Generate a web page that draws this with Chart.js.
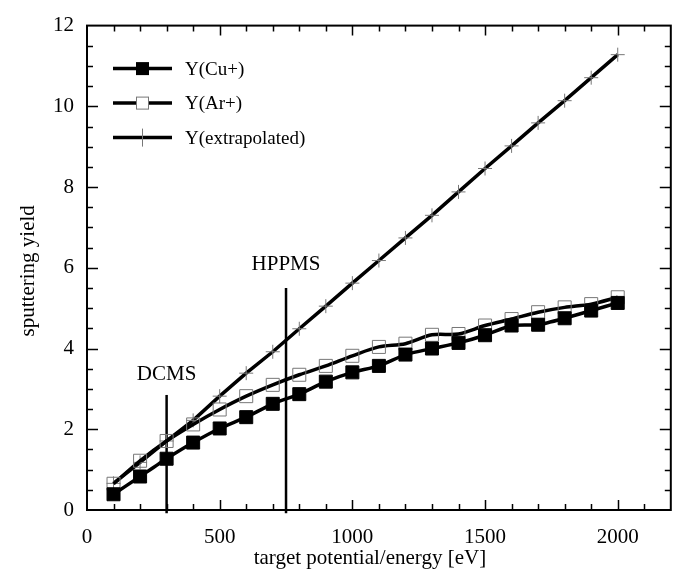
<!DOCTYPE html>
<html>
<head>
<meta charset="utf-8">
<script src="https://cdn.jsdelivr.net/npm/chart.js@4/dist/chart.umd.min.js"></script>
<style>
  body { margin: 0; background: #fff; }
  #wrap { width: 681px; height: 570px; }
</style>
</head>
<body>
<div id="wrap"><canvas id="yieldChart" width="681" height="570"></canvas></div>
<script>
// target potential / energy [eV]
const energies = [100, 200, 300, 400, 500, 600, 700, 800, 900, 1000,
                  1100, 1200, 1300, 1400, 1500, 1600, 1700, 1800, 1900, 2000];
const yieldCu = [0.39, 0.83, 1.27, 1.67, 2.02, 2.30, 2.63, 2.87, 3.18, 3.41,
                 3.57, 3.85, 4.00, 4.14, 4.33, 4.57, 4.59, 4.75, 4.94, 5.13];
const yieldAr = [0.65, 1.22, 1.71, 2.12, 2.49, 2.82, 3.10, 3.35, 3.57, 3.82,
                 4.04, 4.12, 4.34, 4.36, 4.57, 4.73, 4.90, 5.02, 5.10, 5.27];
const yieldExtrap = [0.66, 1.18, 1.71, 2.22, 2.82, 3.39, 3.92, 4.49, 5.05, 5.62,
                     6.18, 6.74, 7.30, 7.88, 8.46, 9.02, 9.59, 10.14, 10.71, 11.28];
const xTicks = [0, 500, 1000, 1500, 2000];
const yTicks = [0, 2, 4, 6, 8, 10, 12];
const regimeNames = ['DCMS', 'HPPMS'];
const regimeEnergies = [300, 750];
const regimeTops = [2.85, 5.5];
const regimeLabelY = [3.36, 6.07];

const serif = "'Liberation Serif', 'DejaVu Serif', serif";
const toPoints = ys => energies.map((x, i) => ({ x: x, y: ys[i] }));

const datasets = [
    {
        label: 'Y(Cu+)',
        data: toPoints(yieldCu),
        borderColor: '#000',
        borderWidth: 3.5,
        tension: 0.2,
        pointStyle: 'rect',
        pointRadius: 9.2,
        pointBackgroundColor: '#000',
        pointBorderColor: '#000',
        pointBorderWidth: 1
    },
    {
        label: 'Y(Ar+)',
        data: toPoints(yieldAr),
        borderColor: '#000',
        borderWidth: 3.5,
        tension: 0.3,
        pointStyle: 'rect',
        pointRadius: 9.2,
        pointBackgroundColor: 'rgba(0,0,0,0)',
        pointBorderColor: '#777',
        pointBorderWidth: 1
    },
    {
        label: 'Y(extrapolated)',
        data: toPoints(yieldExtrap),
        borderColor: '#000',
        borderWidth: 3.5,
        tension: 0,
        pointStyle: 'cross',
        pointRadius: 7,
        pointBorderColor: '#777',
        pointBorderWidth: 1
    }
];

// regime markers drawn as vertical line datasets
regimeEnergies.forEach((e, i) => {
    datasets.push({
        label: '',
        data: [{ x: e, y: -0.08 }, { x: e, y: regimeTops[i] }],
        borderColor: '#000',
        borderWidth: 2.5,
        pointRadius: 0,
        clip: false
    });
});

// box, inward ticks, legend, annotations and axis titles
const decorations = {
    id: 'decorations',
    afterDraw(chart) {
        const ctx = chart.ctx;
        const area = chart.chartArea;
        const xs = chart.scales.x;
        const ys = chart.scales.y;
        ctx.save();
        ctx.strokeStyle = '#000';
        ctx.lineWidth = 2;
        ctx.strokeRect(area.left, area.top, area.right - area.left, area.bottom - area.top);

        ctx.lineWidth = 1.5;
        ctx.beginPath();
        for (let v = 100; v < 2200; v += 100) {
            const px = Math.round(xs.getPixelForValue(v)) + 0.5;
            const len = v % 500 === 0 ? 10 : 6;
            ctx.moveTo(px, area.bottom); ctx.lineTo(px, area.bottom - len);
            ctx.moveTo(px, area.top); ctx.lineTo(px, area.top + len);
        }
        for (let v = 0.5; v < 12; v += 0.5) {
            const py = Math.round(ys.getPixelForValue(v)) + 0.5;
            const len = v % 2 === 0 ? 11 : 6;
            ctx.moveTo(area.left, py); ctx.lineTo(area.left + len, py);
            ctx.moveTo(area.right, py); ctx.lineTo(area.right - len, py);
        }
        ctx.stroke();

        ctx.fillStyle = '#000';
        ctx.font = '21px ' + serif;
        ctx.textAlign = 'center';
        ctx.textBaseline = 'middle';
        regimeNames.forEach((name, i) => {
            ctx.fillText(name, xs.getPixelForValue(regimeEnergies[i]), ys.getPixelForValue(regimeLabelY[i]));
        });

        // legend
        ctx.font = '19px ' + serif;
        ctx.textAlign = 'left';
        chart.data.datasets.slice(0, 3).forEach((ds, i) => {
            const y = area.top + 43 + i * 34.5;
            const x0 = area.left + 26, x1 = area.left + 85, xm = (x0 + x1) / 2;
            ctx.strokeStyle = '#000';
            ctx.lineWidth = 3.5;
            ctx.beginPath();
            ctx.moveTo(x0, y); ctx.lineTo(x1, y);
            ctx.stroke();
            ctx.lineWidth = 1;
            ctx.strokeStyle = ds.pointBorderColor;
            if (ds.pointStyle === 'rect') {
                const s = 6.5;
                if (ds.pointBackgroundColor === '#000') {
                    ctx.fillStyle = '#000';
                    ctx.fillRect(xm - s, y - s, 2 * s, 2 * s);
                } else {
                    ctx.fillStyle = '#fff';
                    ctx.fillRect(xm - s, y - s, 2 * s, 2 * s);
                    ctx.strokeRect(xm - s + 0.5, y - s + 0.5, 2 * s - 1, 2 * s - 1);
                }
            } else {
                ctx.beginPath();
                ctx.moveTo(xm, y - 9); ctx.lineTo(xm, y + 9);
                ctx.stroke();
            }
            ctx.fillStyle = '#000';
            ctx.fillText(ds.label, area.left + 98, y + 1);
        });

        // axis titles
        ctx.font = '21px ' + serif;
        ctx.textAlign = 'center';
        ctx.fillText('target potential/energy [eV]', (area.left + area.right) / 2 - 9, 558);
        ctx.translate(28, (area.top + area.bottom) / 2 + 3);
        ctx.rotate(-Math.PI / 2);
        ctx.fillText('sputtering yield', 0, 0);
        ctx.restore();
    }
};

new Chart(document.getElementById('yieldChart').getContext('2d'), {
    type: 'line',
    data: { datasets: datasets },
    options: {
        responsive: false,
        animation: false,
        layout: { padding: { top: 20, right: 6, left: 0, bottom: 0 } },
        plugins: {
            legend: { display: false },
            tooltip: { enabled: false }
        },
        scales: {
            x: {
                type: 'linear',
                min: 0,
                max: 2200,
                afterBuildTicks: s => { s.ticks = xTicks.map(v => ({ value: v })); },
                afterFit: s => { s.height = 60; },
                grid: { display: false, drawTicks: false },
                border: { display: false },
                ticks: {
                    color: '#000', padding: 15, maxRotation: 0,
                    font: { family: serif, size: 21 },
                    callback: v => String(v)
                }
            },
            y: {
                type: 'linear',
                min: 0,
                max: 12,
                afterBuildTicks: s => { s.ticks = yTicks.map(v => ({ value: v })); },
                afterFit: s => { s.width = 87; },
                grid: { display: false, drawTicks: false },
                border: { display: false },
                ticks: {
                    color: '#000', padding: 13,
                    font: { family: serif, size: 21 },
                    callback: v => String(v)
                }
            }
        }
    },
    plugins: [decorations]
});
</script>
</body>
</html>
